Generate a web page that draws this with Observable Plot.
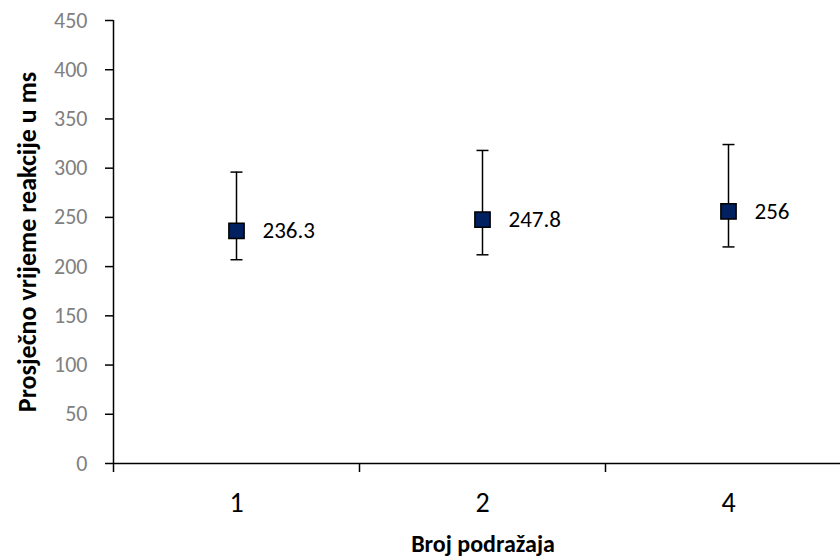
<!DOCTYPE html>
<html>
<head>
<meta charset="utf-8">
<script src="https://cdn.jsdelivr.net/npm/d3@7"></script>
<script src="https://cdn.jsdelivr.net/npm/@observablehq/plot@0.6"></script>
<style>
  html, body { margin: 0; padding: 0; background: #fff; }
  #chart svg { display: block; }
</style>
</head>
<body>
<div id="chart"></div>
<script>
// ---- data ----
const categories = ["1", "2", "4"];
const means = [236.3, 247.8, 256];
const lower = [207, 212, 220];
const upper = [296, 318, 324];
const valueLabels = ["236.3", "247.8", "256"];
const yTicks = [0, 50, 100, 150, 200, 250, 300, 350, 400, 450];
const xTitle = "Broj podražaja";
const yTitle = "Prosječno vrijeme reakcije u ms";

const data = categories.map((c, i) => ({
  cat: c, pos: i + 0.5, mean: means[i], lo: lower[i], hi: upper[i], label: valueLabels[i]
}));
const boundaries = d3.range(categories.length + 1);

const capSymbol = {
  draw(context, size) {
    const r = Math.sqrt(size / Math.PI);
    context.moveTo(-r, 0);
    context.lineTo(r, 0);
  }
};

const font = "Carlito, Calibri, Lato, sans-serif";

const chart = Plot.plot({
  width: 840,
  height: 560,
  marginLeft: 113,
  marginRight: 0,
  marginTop: 20,
  marginBottom: 97,
  style: { fontFamily: font, background: "#fff", overflow: "visible" },
  x: { type: "linear", domain: [0, categories.length], range: [113, 851], axis: null },
  y: { domain: [0, 450], axis: null },
  marks: [
    // y axis ticks and labels
    Plot.axisY({ ticks: yTicks, tickSize: 8, stroke: "#000", strokeWidth: 1.5, tickFormat: () => "", label: null }),
    Plot.axisY({ ticks: yTicks, tickSize: 0, tickPadding: 26, fill: "#808080", stroke: "none", fontSize: 22, fontFamily: font, label: null }),
    Plot.ruleX([0], { stroke: "#000", strokeWidth: 1.5 }),
    // x axis
    Plot.ruleY([0], { stroke: "#000", strokeWidth: 1.5 }),
    Plot.axisX({ ticks: boundaries, tickSize: 9, stroke: "#000", strokeWidth: 1.5, tickFormat: () => "", label: null }),
    Plot.text(data, { x: "pos", frameAnchor: "bottom", lineAnchor: "middle", text: "cat", dy: 40, fontSize: 28, fill: "#000" }),
    // titles
    Plot.text([yTitle], { frameAnchor: "left", textAnchor: "middle", lineAnchor: "middle", rotate: -90, dx: -86, fontSize: 26, fontWeight: "bold", fill: "#000" }),
    Plot.text([xTitle], { frameAnchor: "bottom", textAnchor: "middle", lineAnchor: "middle", dx: 6, dy: 81, fontSize: 24, fontWeight: "bold", fill: "#000" }),
    // error bars
    Plot.ruleX(data, { x: "pos", y1: "lo", y2: "hi", stroke: "#000", strokeWidth: 1.5 }),
    Plot.dot(data, { x: "pos", y: "lo", symbol: capSymbol, r: 6, stroke: "#000", strokeWidth: 1.5, fill: "none" }),
    Plot.dot(data, { x: "pos", y: "hi", symbol: capSymbol, r: 6, stroke: "#000", strokeWidth: 1.5, fill: "none" }),
    // points
    Plot.dot(data, { x: "pos", y: "mean", symbol: "square", r: 8.6, fill: "#002060", stroke: "#000", strokeWidth: 1.5 }),
    // value labels
    Plot.text(data, { x: "pos", y: "mean", text: "label", dx: 26, textAnchor: "start", fontSize: 23, fill: "#000" })
  ]
});

document.getElementById("chart").appendChild(chart);
</script>
</body>
</html>
